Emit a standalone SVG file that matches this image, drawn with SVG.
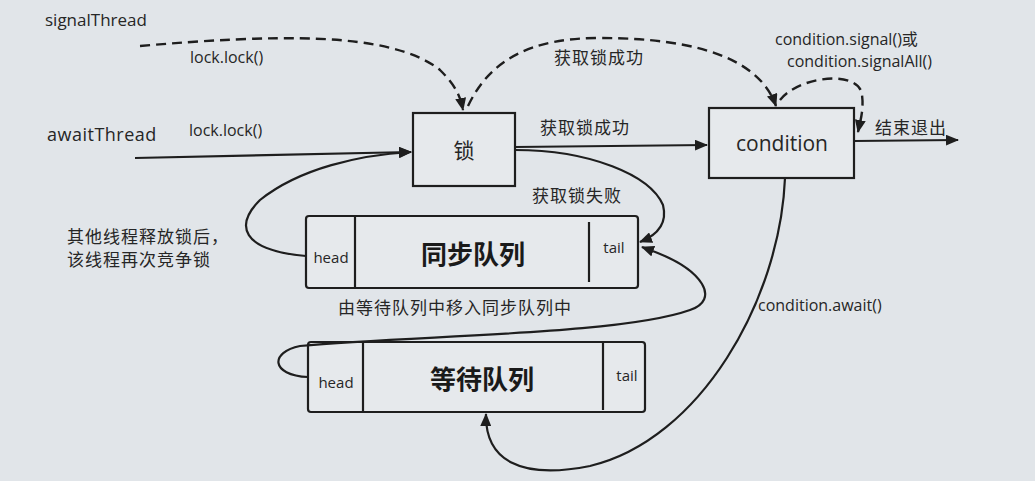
<svg xmlns="http://www.w3.org/2000/svg" width="1035" height="481" viewBox="0 0 1035 481">
<defs>
<marker id="ah" markerWidth="13" markerHeight="11" refX="12" refY="5.5" orient="auto" markerUnits="userSpaceOnUse">
<path d="M0,0 L13,5.5 L0,11 Z" fill="#1e1e1e"/>
</marker>
<style>
text{font-family:"Open Sans","Noto Sans","Noto Sans CJK SC",sans-serif;fill:#262626}
.lbl{font-size:16px}
.cn{font-size:17px;letter-spacing:1px}
.big{font-size:17px;font-weight:500}
.box{fill:#e6e9ec;stroke:#1e1e1e;stroke-width:2.2}
.ln{fill:none;stroke:#1e1e1e;stroke-width:2.2}
.dash{fill:none;stroke:#1e1e1e;stroke-width:2.4;stroke-dasharray:10,6}
.q{font-size:26px;font-weight:bold;fill:#1a1a1a}
.sm{font-size:15px}
</style>
</defs>
<rect width="1035" height="481" fill="#e1e5e9"/>

<g id="signalThread"><text class="big" x="45" y="26">signalThread</text></g>
<g id="awaitThread"><text class="big" x="47" y="141" style="font-size:18px;letter-spacing:0.5px">awaitThread</text></g>

<g id="lock">
<rect class="box" x="413" y="113" width="102" height="73"/>
<text x="464" y="158" text-anchor="middle" style="font-size:21px">锁</text>
</g>

<g id="condition">
<rect class="box" x="709" y="108" width="145" height="70"/>
<text x="782" y="151" text-anchor="middle" style="font-size:21px">condition</text>
</g>

<g id="syncQueue">
<rect class="box" x="306" y="216" width="332" height="72" rx="3"/>
<line class="ln" x1="355" y1="216" x2="355" y2="288"/>
<line class="ln" x1="589" y1="222" x2="589" y2="282"/>
<text class="sm" x="331" y="263" text-anchor="middle">head</text>
<text class="sm" x="614" y="253" text-anchor="middle">tail</text>
<text class="q" x="473" y="264" text-anchor="middle">同步队列</text>
</g>

<g id="waitQueue">
<rect class="box" x="308" y="342" width="337" height="70" rx="3"/>
<line class="ln" x1="363" y1="342" x2="363" y2="412"/>
<line class="ln" x1="603" y1="342" x2="603" y2="410"/>
<text class="sm" x="336" y="388" text-anchor="middle">head</text>
<text class="sm" x="627" y="381" text-anchor="middle">tail</text>
<text class="q" x="482" y="389" text-anchor="middle">等待队列</text>
</g>

<g id="connectors">
<path class="dash" d="M140,46 C270,35 390,30 440,70 C455,85 460,95 463,110" marker-end="url(#ah)"/>
<path class="ln" d="M135,158 L411,152" marker-end="url(#ah)"/>
<path class="dash" d="M468,106 C490,60 530,38 600,38 C700,38 760,60 776,106" marker-end="url(#ah)"/>
<path class="dash" d="M780,100 C800,75 860,70 862,95 C864,110 860,122 858,132" marker-end="url(#ah)"/>
<path class="ln" d="M515,147 L707,145" marker-end="url(#ah)"/>
<path class="ln" d="M854,141 L958,140" marker-end="url(#ah)"/>
<path class="ln" d="M515,150 C590,150 650,175 663,205 C668,225 655,236 640,242" marker-end="url(#ah)"/>
<path class="ln" d="M306,256 C240,250 235,225 260,200 C300,168 360,155 411,152" marker-end="url(#ah)"/>
<path class="ln" d="M308,377 C270,375 270,352 300,346 C420,335 620,335 690,310 C720,300 705,270 650,250 L642,247" marker-end="url(#ah)"/>
<path class="ln" d="M785,178 C780,300 700,440 590,466 C520,480 485,460 486,414" marker-end="url(#ah)"/>
</g>

<g id="labels">
<text class="lbl" x="190" y="63">lock.lock()</text>
<text class="lbl" x="189" y="136">lock.lock()</text>
<text class="cn" x="554" y="64">获取锁成功</text>
<text class="lbl" x="775" y="45">condition.signal()或</text>
<text class="lbl" x="787" y="67">condition.signalAll()</text>
<text class="cn" x="540" y="134">获取锁成功</text>
<text class="cn" x="875" y="134">结束退出</text>
<text class="cn" x="532" y="202">获取锁失败</text>
<text class="cn" x="67" y="243">其他线程释放锁后，</text>
<text class="cn" x="67" y="266">该线程再次竞争锁</text>
<text class="cn" x="338" y="314">由等待队列中移入同步队列中</text>
<text class="lbl" x="758" y="311">condition.await()</text>
</g>
</svg>
